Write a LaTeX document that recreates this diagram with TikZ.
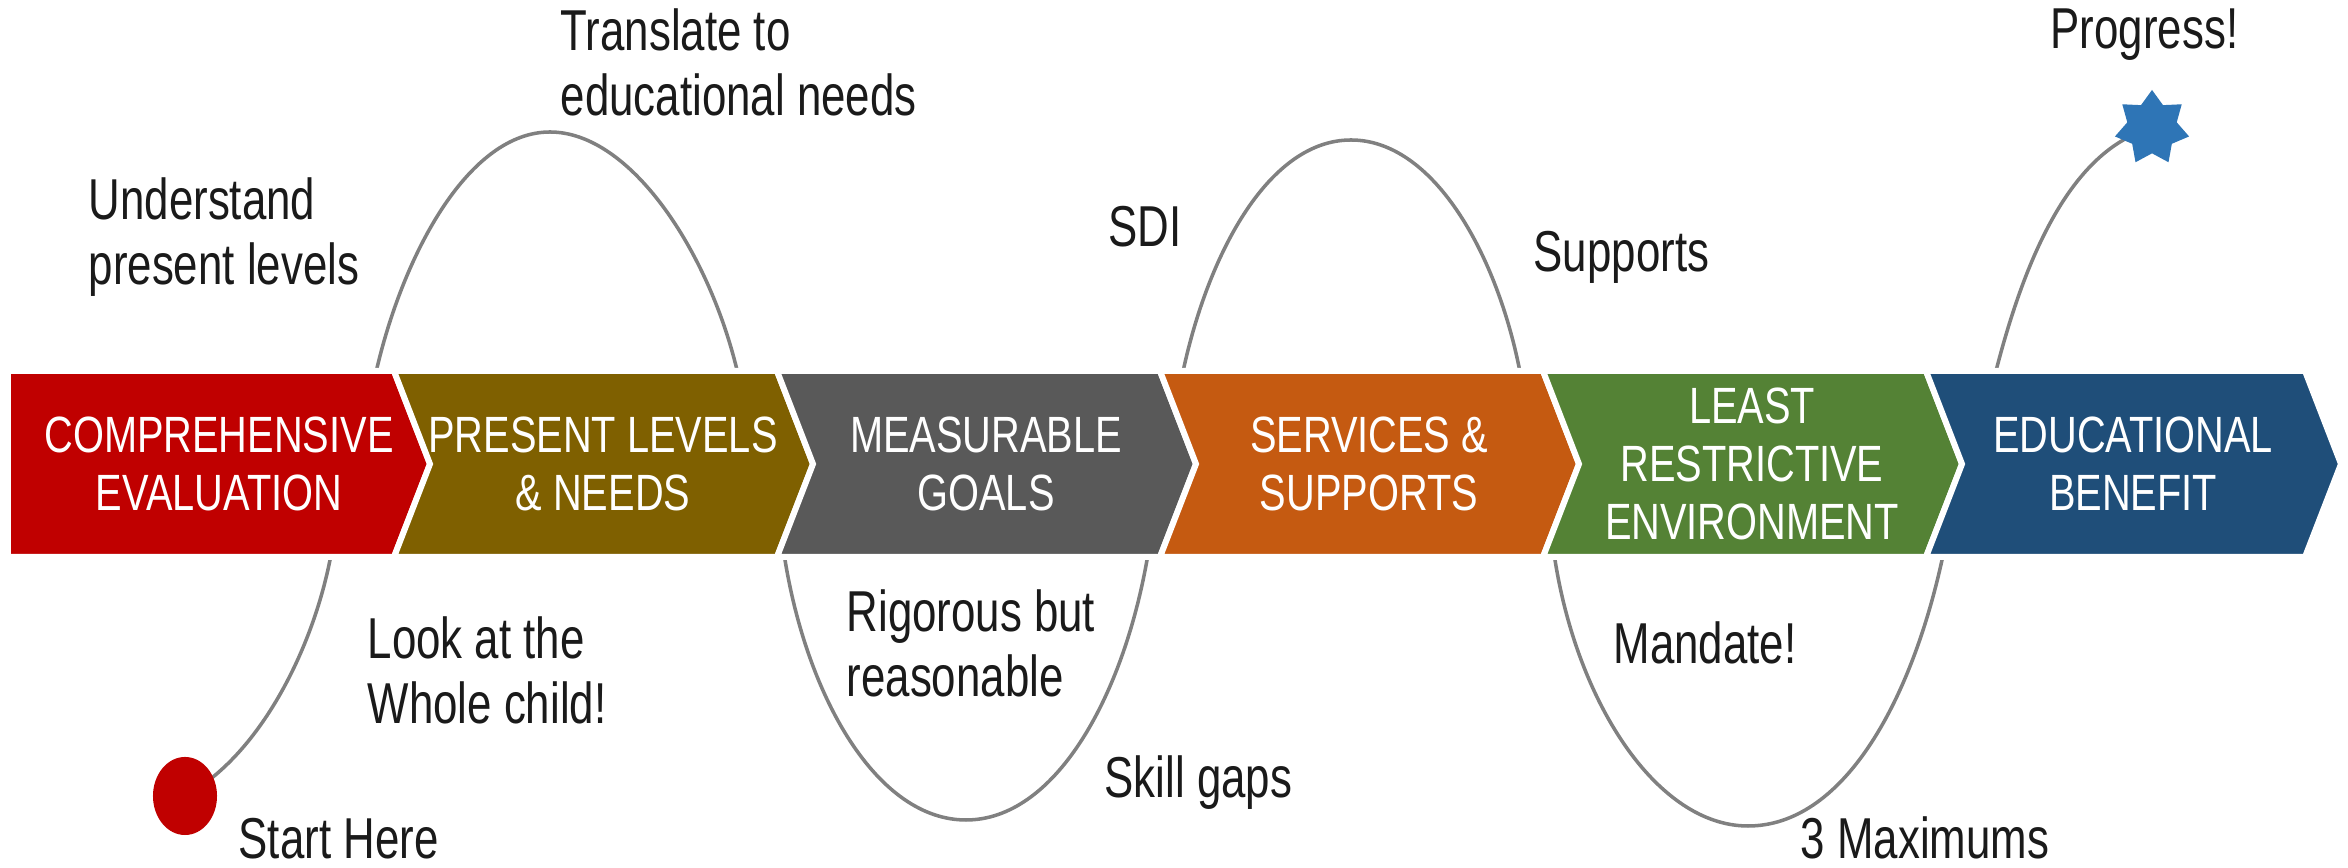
\documentclass[tikz,border=0pt]{standalone}
\usepackage{fontspec}
\setmainfont{Liberation Sans}[FakeStretch=0.76]
\newfontfamily\chevfont{Liberation Sans}[FakeStretch=0.78]
\usetikzlibrary{shapes.geometric}
\definecolor{cRed}{HTML}{C00000}
\definecolor{cOlive}{HTML}{7F6000}
\definecolor{cGrey}{HTML}{595959}
\definecolor{cOrange}{HTML}{C55A11}
\definecolor{cGreen}{HTML}{548235}
\definecolor{cBlue}{HTML}{1F4E79}
\definecolor{cStar}{HTML}{2E75B6}
\definecolor{cLine}{HTML}{808080}
\definecolor{cText}{HTML}{1A1A1A}
\tikzset{
  lbl/.style={anchor=north west, inner sep=0pt, align=left, text=cText,
    font=\fontsize{16.4}{18.5}\selectfont},
  chevtext/.style={align=center, text=white, inner sep=0pt,
    font=\chevfont\fontsize{14.5}{16.5}\selectfont},
  wave/.style={draw=cLine, line width=1pt},
  chevbox/.style={draw=white, line width=1.7pt, line join=miter},
}
\begin{document}
\begin{tikzpicture}[x=0.01cm,y=-0.01cm]
\useasboundingbox (0,0) rectangle (2348,868);
\fill[white] (0,0) rectangle (2348,868);

\coordinate (s) at (185,796);
\coordinate (p) at (2152,128);

% the wave
\draw[wave] (s) .. controls (260,755) and (312,650) .. (330,560)
  -- (377,368)
  .. controls (405,250) and (470,132) .. (550,132)
  .. controls (630,132) and (708,250) .. (737,370)
  -- (785,560)
  .. controls (808,700) and (878,820) .. (966,820)
  .. controls (1054,820) and (1122,700) .. (1147,560)
  -- (1184,367)
  .. controls (1210,250) and (1270,140) .. (1351,140)
  .. controls (1432,140) and (1495,250) .. (1519,367)
  -- (1555,560)
  .. controls (1578,705) and (1658,826) .. (1748,826)
  .. controls (1842,826) and (1910,705) .. (1942,560)
  -- (1997,367)
  .. controls (2025,260) and (2070,150) .. (p);

% chevrons
\fill[cRed,chevbox] (8,371) -- (394,371) -- (430,464) -- (394,557) -- (8,557) -- cycle;
\fill[cOlive,chevbox] (394,371) -- (777,371) -- (813,464) -- (777,557) -- (394,557) -- (430,464) -- cycle;
\fill[cGrey,chevbox] (777,371) -- (1160,371) -- (1196,464) -- (1160,557) -- (777,557) -- (813,464) -- cycle;
\fill[cOrange,chevbox] (1160,371) -- (1543,371) -- (1579,464) -- (1543,557) -- (1160,557) -- (1196,464) -- cycle;
\fill[cGreen,chevbox] (1543,371) -- (1926,371) -- (1962,464) -- (1926,557) -- (1543,557) -- (1579,464) -- cycle;
\fill[cBlue,chevbox] (1926,371) -- (2305,371) -- (2341,464) -- (2305,557) -- (1926,557) -- (1962,464) -- cycle;

% chevron labels
\node[chevtext] (c1) at (219,464) {COMPREHENSIVE\\EVALUATION};
\node[chevtext] (c2) at (603,464) {PRESENT LEVELS\\\& NEEDS};
\node[chevtext] (c3) at (986,464) {MEASURABLE\\GOALS};
\node[chevtext] (c4) at (1369,464) {SERVICES \&\\SUPPORTS};
\node[chevtext] (c5) at (1752,464) {LEAST\\RESTRICTIVE\\ENVIRONMENT};
\node[chevtext] (c6) at (2133,464) {EDUCATIONAL\\BENEFIT};

% annotations
\node[lbl] (tUnder) at (88,177) {Understand\\present levels};
\node[lbl] (tTrans) at (560,8) {Translate to\\educational needs};
\node[lbl] (tSDI) at (1108,206) {SDI};
\node[lbl] (tSup) at (1533,231) {Supports};
\node[lbl] (tProg) at (2050,8) {Progress!};
\node[lbl] (tLook) at (367,616) {Look at the\\Whole child!};
\node[lbl] (tRig) at (846,589) {Rigorous but\\reasonable};
\node[lbl] (tSkill) at (1104,755) {Skill gaps};
\node[lbl] (tMand) at (1613,621) {Mandate!};
\node[lbl] (tMax) at (1800,816) {3 Maximums};
\node[lbl] (tStart) at (238,818) {Start Here};

% start and end marks
\node[ellipse, fill=cRed, minimum width=0.64cm, minimum height=0.78cm, inner sep=0pt] (start) at (s) {};
\node[star, star points=7, star point ratio=1.5, minimum size=0.76cm, inner sep=0pt, fill=cStar] (goal) at (p) {};
\end{tikzpicture}
\end{document}
